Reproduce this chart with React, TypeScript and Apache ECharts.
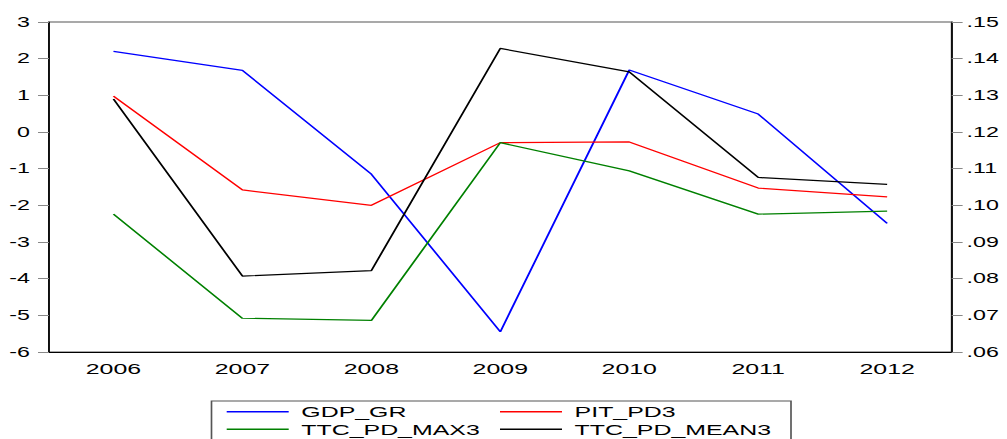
import React, { useEffect, useRef } from "react";
import * as echarts from "echarts";

const years = ["2006", "2007", "2008", "2009", "2010", "2011", "2012"];
const gdpGr = [2.2, 1.68, -1.15, -5.45, 1.69, 0.49, -2.49];
const pitPd3 = [0.1298, 0.1042, 0.1, 0.1171, 0.1173, 0.1047, 0.1023];
const ttcPdMax3 = [0.0976, 0.0692, 0.0686, 0.1171, 0.1094, 0.0976, 0.0984];
const ttcPdMean3 = [0.129, 0.0807, 0.0822, 0.1428, 0.1364, 0.1076, 0.1057];

const S = 1.66; // horizontal stretch of the original picture
const W = 1007 / S;
const H = 439;
const FONT = "Liberation Sans, Arial, sans-serif";

export default function App() {
  const ref = useRef<HTMLDivElement>(null);
  useEffect(() => {
    if (!ref.current) return;
    const chart = echarts.init(ref.current, undefined, { renderer: "svg" });
    const legendCommon = {
      orient: "vertical",
      padding: 0,
      itemGap: 0,
      itemWidth: 62 / S,
      itemHeight: 1.4,
      icon: "rect",
      selectedMode: false,
      textStyle: {
        fontFamily: FONT,
        fontSize: 15,
        color: "#000",
        lineHeight: 17.6,
        padding: [0, 0, 0, 2.6],
      },
    };
    chart.setOption({
      animation: false,
      backgroundColor: "#fff",
      grid: {
        left: 49 / S,
        right: (1007 - 951) / S,
        top: 22,
        bottom: 87,
        show: true,
        borderColor: "#555",
        borderWidth: 1,
      },
      xAxis: {
        type: "category",
        data: years,
        boundaryGap: true,
        axisLine: { onZero: false, lineStyle: { color: "#000", width: 1 } },
        axisTick: { length: 6, lineStyle: { color: "#000" } },
        axisLabel: { fontFamily: FONT, fontSize: 15, color: "#000", margin: 9 },
        splitLine: { show: false },
      },
      yAxis: [
        {
          type: "value",
          min: -6,
          max: 3,
          interval: 1,
          position: "left",
          axisLine: { show: true, lineStyle: { color: "#000", width: 1 } },
          axisTick: { show: true, length: 11 / S, lineStyle: { color: "#888" } },
          axisLabel: { fontFamily: FONT, fontSize: 14, color: "#000", margin: 19 / S },
          splitLine: { show: false },
        },
        {
          type: "value",
          min: 0.06,
          max: 0.15,
          interval: 0.01,
          position: "right",
          axisLine: { show: true, lineStyle: { color: "#000", width: 1 } },
          axisTick: { show: true, length: 11 / S, lineStyle: { color: "#888" } },
          axisLabel: {
            fontFamily: FONT,
            fontSize: 14,
            color: "#000",
            margin: 15 / S,
            formatter: (v: number) => v.toFixed(2).replace(/^0/, ""),
          },
          splitLine: { show: false },
        },
      ],
      legend: [
        {
          ...legendCommon,
          left: 226.7 / S,
          top: 402.9,
          data: ["GDP_GR", "TTC_PD_MAX3"],
        },
        {
          ...legendCommon,
          left: 500 / S,
          top: 402.9,
          data: ["PIT_PD3", "TTC_PD_MEAN3"],
        },
      ],
      graphic: [
        {
          type: "rect",
          shape: { x: 211.5 / S, y: 401, width: (791 - 211.5) / S, height: 80 },
          style: { fill: "none", stroke: "#555", lineWidth: 1 },
          silent: true,
        },
      ],
      series: [
        {
          name: "GDP_GR",
          type: "line",
          yAxisIndex: 0,
          data: gdpGr,
          showSymbol: false,
          color: "#0000ff",
          lineStyle: { width: 1.2, color: "#0000ff" },
        },
        {
          name: "PIT_PD3",
          type: "line",
          yAxisIndex: 1,
          data: pitPd3,
          showSymbol: false,
          color: "#ff0000",
          lineStyle: { width: 1.2, color: "#ff0000" },
        },
        {
          name: "TTC_PD_MAX3",
          type: "line",
          yAxisIndex: 1,
          data: ttcPdMax3,
          showSymbol: false,
          color: "#008000",
          lineStyle: { width: 1.2, color: "#008000" },
        },
        {
          name: "TTC_PD_MEAN3",
          type: "line",
          yAxisIndex: 1,
          data: ttcPdMean3,
          showSymbol: false,
          color: "#000000",
          lineStyle: { width: 1.2, color: "#000000" },
        },
      ],
    });
    return () => chart.dispose();
  }, []);
  return (
    <div
      style={{
        position: "fixed",
        left: 0,
        top: 0,
        width: 1007,
        height: H,
        overflow: "hidden",
        background: "#fff",
      }}
    >
      <div
        ref={ref}
        style={{
          width: W,
          height: H,
          transform: `scaleX(${S})`,
          transformOrigin: "0 0",
        }}
      />
    </div>
  );
}
